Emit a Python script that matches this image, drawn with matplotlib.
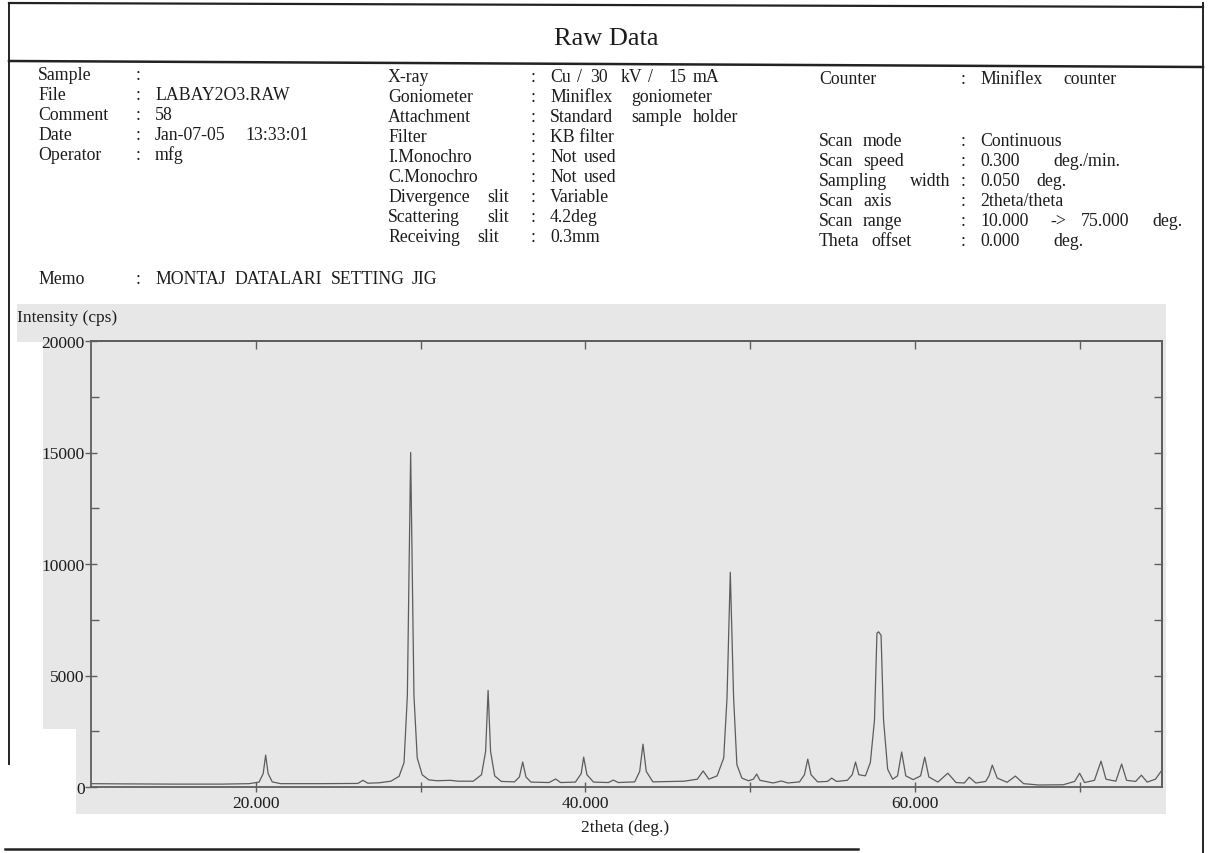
import matplotlib
matplotlib.use("Agg")
import matplotlib.pyplot as plt
from matplotlib.patches import Rectangle
from matplotlib.lines import Line2D

# ---------------------------------------------------------------- data
# Diffraction trace: 2theta (deg.) and intensity (cps), vertex by vertex
two_theta = [
    10.0, 12.0, 15.0, 18.0, 19.6, 20.2, 20.45, 20.6, 20.75, 21.0, 21.5, 24.0,
    26.2, 26.5, 26.8, 27.5, 28.2, 28.7, 29.0, 29.2, 29.4, 29.6, 29.8, 30.1,
    30.5, 31.0, 31.8, 32.3, 33.2, 33.7, 33.95, 34.1, 34.25, 34.5, 34.9, 35.7,
    36.0, 36.2, 36.4, 36.7, 37.8, 38.2, 38.5, 39.4, 39.75, 39.9, 40.1, 40.5,
    41.4, 41.7, 42.0, 43.0, 43.3, 43.5, 43.7, 44.1, 46.0, 46.8, 47.15, 47.5,
    48.0, 48.4, 48.6, 48.8, 49.0, 49.2, 49.5, 49.9, 50.2, 50.4, 50.6, 51.4,
    51.9, 52.3, 53.0, 53.3, 53.5, 53.7, 54.1, 54.7, 54.95, 55.25, 55.9, 56.2,
    56.4, 56.6, 57.0, 57.3, 57.55, 57.7, 57.8, 57.95, 58.1, 58.35, 58.65, 58.95,
    59.2, 59.45, 59.9, 60.35, 60.6, 60.85, 61.4, 62.0, 62.5, 63.0, 63.3, 63.7,
    64.3, 64.5, 64.7, 65.0, 65.6, 66.1, 66.6, 67.5, 69.0, 69.7, 70.0, 70.3,
    70.9, 71.3, 71.6, 72.2, 72.55, 72.85, 73.4, 73.75, 74.1, 74.6, 75.0,
]
intensity = [
    150, 140, 130, 130, 150, 220, 600, 1430, 600, 230, 150, 150,
    160, 300, 170, 190, 260, 480, 1100, 4100, 15000, 4100, 1300, 550,
    320, 280, 300, 260, 260, 550, 1600, 4330, 1600, 500, 250, 230,
    450, 1120, 450, 220, 200, 360, 200, 220, 600, 1340, 550, 220,
    200, 310, 200, 230, 700, 1920, 700, 230, 260, 350, 720, 350,
    500, 1300, 4000, 9630, 4000, 1000, 400, 280, 350, 580, 300, 180,
    270, 180, 230, 550, 1250, 550, 230, 250, 400, 250, 300, 550,
    1120, 550, 500, 1100, 3000, 6900, 6960, 6800, 3000, 800, 350, 500,
    1570, 500, 330, 500, 1340, 450, 220, 620, 200, 180, 440, 180,
    250, 500, 980, 400, 210, 490, 150, 90, 100, 250, 620, 200,
    300, 1160, 350, 260, 1030, 300, 250, 530, 220, 350, 760,
]

x_ticks = [20, 30, 40, 50, 60, 70]
x_tick_labels = ["20.000", "", "40.000", "", "60.000", ""]
y_ticks = [0, 5000, 10000, 15000, 20000]
y_tick_labels = ["0", "5000", "10000", "15000", "20000"]
y_minor_ticks = [2500, 7500, 12500, 17500]
y_right_ticks = [2500, 5000, 7500, 10000, 12500, 15000, 17500]

title = "Raw Data"
y_label = "Intensity (cps)"
x_label = "2theta (deg.)"

# header block, one entry per line; words are laid out in columns
col1_labels = [["Sample"], ["File"], ["Comment"], ["Date"], ["Operator"]]
col1_values = [[], ["LABAY2O3.RAW"], ["58"], ["Jan-07-05", "13:33:01"], ["mfg"]]
col2_labels = [["X-ray"], ["Goniometer"], ["Attachment"], ["Filter"],
               ["I.Monochro"], ["C.Monochro"], ["Divergence", "slit"],
               ["Scattering", "slit"], ["Receiving", "slit"]]
col2_values = [["Cu", "/", "30", "kV", "/", "15", "mA"],
               ["Miniflex", "goniometer"],
               ["Standard", "sample", "holder"],
               ["KB filter"], ["Not", "used"], ["Not", "used"],
               ["Variable"], ["4.2deg"], ["0.3mm"]]
col3_labels = [["Counter"], ["Scan", "mode"], ["Scan", "speed"],
               ["Sampling", "width"], ["Scan", "axis"], ["Scan", "range"],
               ["Theta", "offset"]]
col3_values = [["Miniflex", "counter"], ["Continuous"], ["0.300", "deg./min."],
               ["0.050", "deg."], ["2theta/theta"],
               ["10.000", "->", "75.000", "deg."], ["0.000", "deg."]]
memo_label = "Memo"
memo_value = ["MONTAJ", "DATALARI", "SETTING", "JIG"]

# ---------------------------------------------------------------- figure
plt.rcParams["font.family"] = ["Liberation Serif", "DejaVu Serif"]

W, H = 1208, 854
fig = plt.figure(figsize=(W / 100, H / 100), dpi=100)
fig.patch.set_facecolor("white")

PANEL = "#e7e7e7"
INK = "#1c1c1c"
AXC = "#5e5e5e"
HDR = 12.8


def fx(x):
    return x / W


def fy(y):
    return 1 - y / H


def rect(x0, y0, x1, y1, color):
    fig.patches.append(Rectangle((fx(x0), fy(y1)), fx(x1) - fx(x0), fy(y0) - fy(y1),
                                 transform=fig.transFigure, facecolor=color,
                                 edgecolor="none", zorder=-5))


def fline(x0, y0, x1, y1, lw=1.6, color="#222222"):
    fig.lines.append(Line2D([fx(x0), fx(x1)], [fy(y0), fy(y1)],
                            transform=fig.transFigure, color=color, lw=lw))


def put(x, y, s, size=HDR, **kw):
    fig.text(fx(x), fy(y), s, fontsize=size, color=INK, va="center", ha="left", **kw)


# grey plotting panel
rect(17, 305, 1166, 343, PANEL)
rect(43, 343, 1166, 730, PANEL)
rect(76, 730, 1166, 815, PANEL)

# page frame
fline(9, 4, 1203, 8)
fline(9, 62, 1203, 68, lw=1.8)
fline(9, 4, 9, 765, lw=1.4)
fline(1203, 4, 1203, 854, lw=1.4)
fline(5, 850, 858, 850, lw=1.8)

# title
fig.text(fx(606), fy(39), title, fontsize=19, color=INK, ha="center", va="center")

# column 1
rows1 = [75, 95, 115, 135, 155]
val1_x = [[], [155], [155], [155, 245], [155]]
for y, lab, vals, xs in zip(rows1, col1_labels, col1_values, val1_x):
    put(38, y, lab[0])
    put(136, y, ":")
    for v, x in zip(vals, xs):
        put(x, y, v)

# column 2
rows2 = [77, 97, 117, 137, 157, 178, 198, 218, 238]
lab2_x = [[388], [388], [388], [388], [388], [388], [388, 487], [388, 487], [388, 477]]
val2_x = [[550, 577, 590, 621, 648, 668, 693], [550, 631], [550, 631, 693],
          [550], [550, 584], [550, 584], [550], [550], [550]]
for y, labs, lxs, vals, vxs in zip(rows2, col2_labels, lab2_x, col2_values, val2_x):
    for t, x in zip(labs, lxs):
        put(x, y, t)
    put(531, y, ":")
    for t, x in zip(vals, vxs):
        put(x, y, t)

# column 3
rows3 = [80, 141, 161, 181, 201, 222, 241]
lab3_x = [[819], [819, 863], [819, 863], [819, 910], [819, 863], [819, 863], [819, 871]]
val3_x = [[980, 1063], [980], [980, 1053], [980, 1036], [980],
          [980, 1050, 1081, 1152], [980, 1053]]
for y, labs, lxs, vals, vxs in zip(rows3, col3_labels, lab3_x, col3_values, val3_x):
    for t, x in zip(labs, lxs):
        put(x, y, t)
    put(961, y, ":")
    for t, x in zip(vals, vxs):
        put(x, y, t)

# memo line
put(38, 279, memo_label)
put(136, 279, ":")
for t, x in zip(memo_value, [155, 234, 331, 412]):
    put(x, 279, t)

# ---------------------------------------------------------------- plot
ax = fig.add_axes([fx(91), fy(788), fx(1162) - fx(91), fy(342) - fy(788)])
ax.set_facecolor(PANEL)
ax.plot(two_theta, intensity, color="#5c5c5c", lw=0.9, solid_joinstyle="round")
ax.set_xlim(10, 75)
ax.set_ylim(0, 20000)

for s in ax.spines.values():
    s.set_color(AXC)
    s.set_linewidth(1.3)

ax.set_xticks(x_ticks)
ax.set_xticklabels(x_tick_labels)
ax.tick_params(axis="x", which="major", direction="inout", length=7, width=1,
               color=AXC, pad=2, labelsize=12.5, labelcolor=INK)
ax.set_yticks(y_ticks)
ax.set_yticklabels(y_tick_labels)
ax.set_yticks(y_minor_ticks, minor=True)
ax.tick_params(axis="y", which="major", direction="inout", length=9, width=1,
               color=AXC, pad=0, labelsize=12.5, labelcolor=INK)
ax.tick_params(axis="y", which="minor", direction="in", length=6, width=1, color=AXC)

right = ax.secondary_yaxis("right")
right.set_yticks(y_right_ticks)
right.set_yticklabels([])
right.tick_params(direction="in", length=6, width=1, color=AXC)
right.spines["right"].set_color(AXC)
right.spines["right"].set_linewidth(1.3)

top = ax.secondary_xaxis("top")
top.set_xticks(x_ticks)
top.set_xticklabels([])
top.tick_params(direction="in", length=6, width=1, color=AXC)
top.spines["top"].set_color(AXC)
top.spines["top"].set_linewidth(1.3)

# axis titles
put(17, 318, y_label, size=12.5)
fig.text(fx(625), fy(828), x_label, fontsize=12.5, color=INK, ha="center", va="center")

fig.savefig("out.png", dpi=100, facecolor="white")
